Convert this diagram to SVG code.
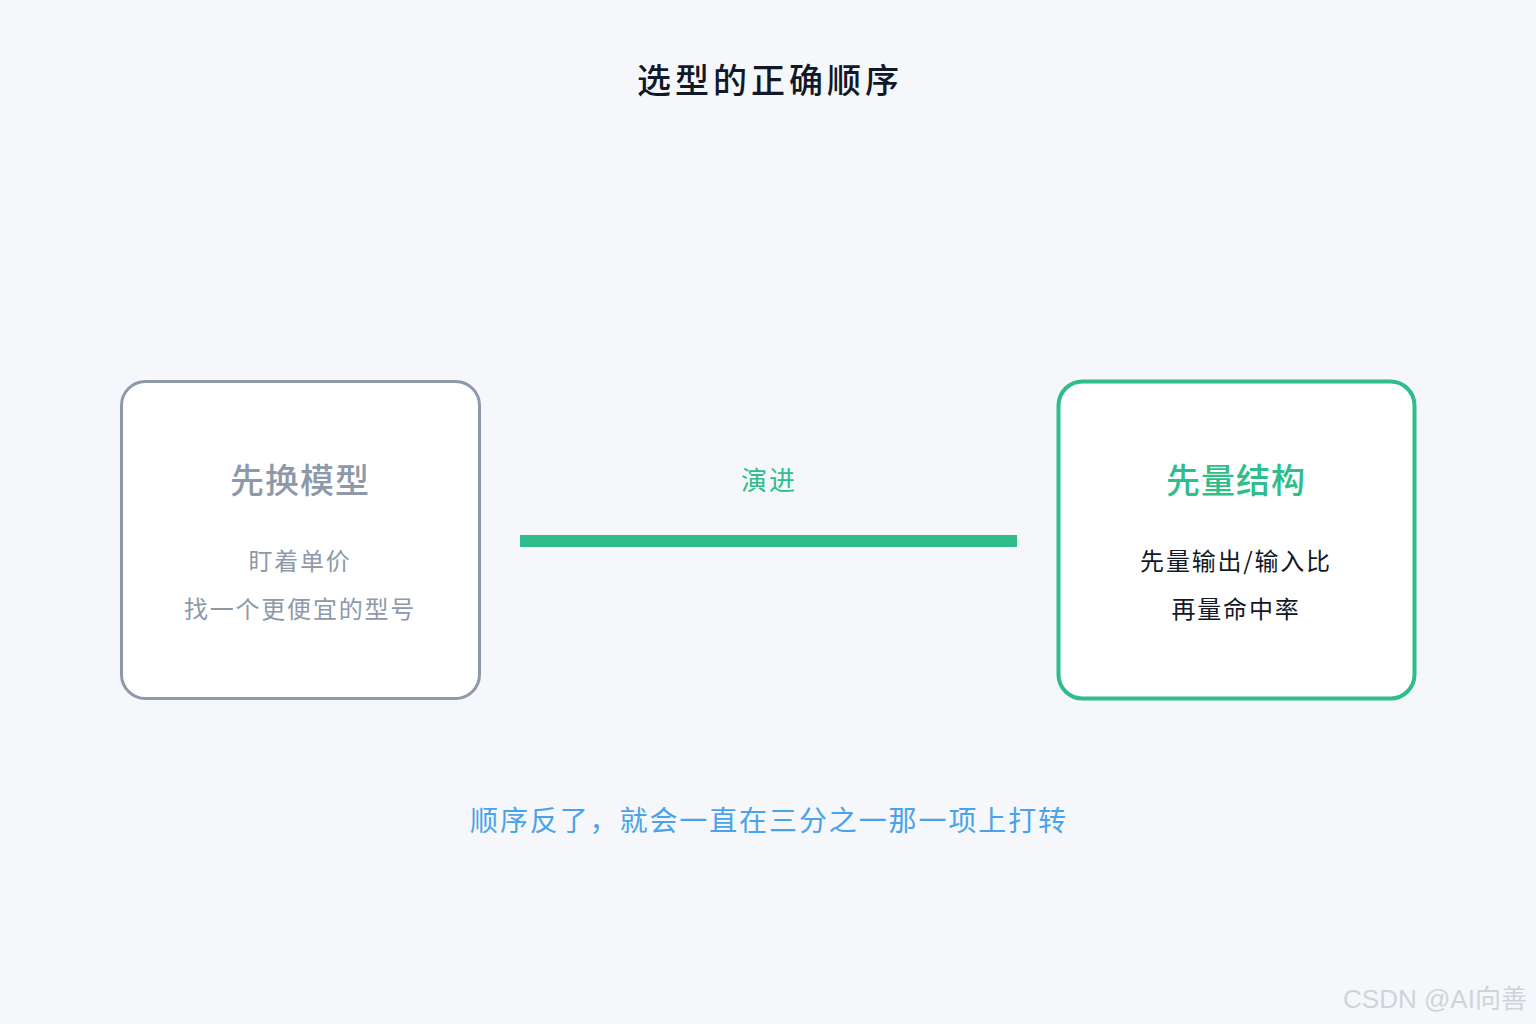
<svg xmlns="http://www.w3.org/2000/svg" width="1536" height="1024" viewBox="0 0 1536 1024">
<style>
text{font-family:"Noto Sans CJK SC","Noto Sans",sans-serif;text-anchor:middle}
.t{font-size:34px;font-weight:500;letter-spacing:1px}
.s{font-size:24px;letter-spacing:1.8px}
</style>
<rect width="1536" height="1024" fill="#f5f7fa"/>
<text x="770" y="93" font-size="34" font-weight="500" fill="#111827" letter-spacing="4">选型的正确顺序</text>
<g id="old">
<rect x="121.5" y="381.5" width="358" height="317" rx="24" fill="#fff" stroke="#8d99a8" stroke-width="3"/>
<text class="t" x="300" y="493" fill="#8d99a8">先换模型</text>
<text class="s" x="300" y="570" fill="#8d99a8">盯着单价</text>
<text class="s" x="300" y="618" fill="#8d99a8">找一个更便宜的型号</text>
</g>
<g id="new">
<rect x="1058.5" y="381.5" width="356" height="317" rx="24" fill="#fff" stroke="#2fbd8a" stroke-width="4"/>
<text class="t" x="1236" y="493" fill="#2fbd8a">先量结构</text>
<text class="s" x="1236" y="570" fill="#111827">先量输出/输入比</text>
<text class="s" x="1236" y="618" fill="#111827">再量命中率</text>
</g>
<g id="connectors">
<line x1="520" y1="541" x2="1017" y2="541" stroke="#2fbd8a" stroke-width="12"/>
<text x="769" y="490" font-size="26" fill="#2fbd8a" letter-spacing="2">演进</text>
</g>
<text x="769" y="831" font-size="28" fill="#4aa3e8" letter-spacing="1.9">顺序反了，就会一直在三分之一那一项上打转</text>
<text x="1435" y="1008" font-size="26" fill="#d0d4da" style="font-family:'Liberation Sans','Noto Sans CJK SC',sans-serif">CSDN @AI向善</text>
</svg>
